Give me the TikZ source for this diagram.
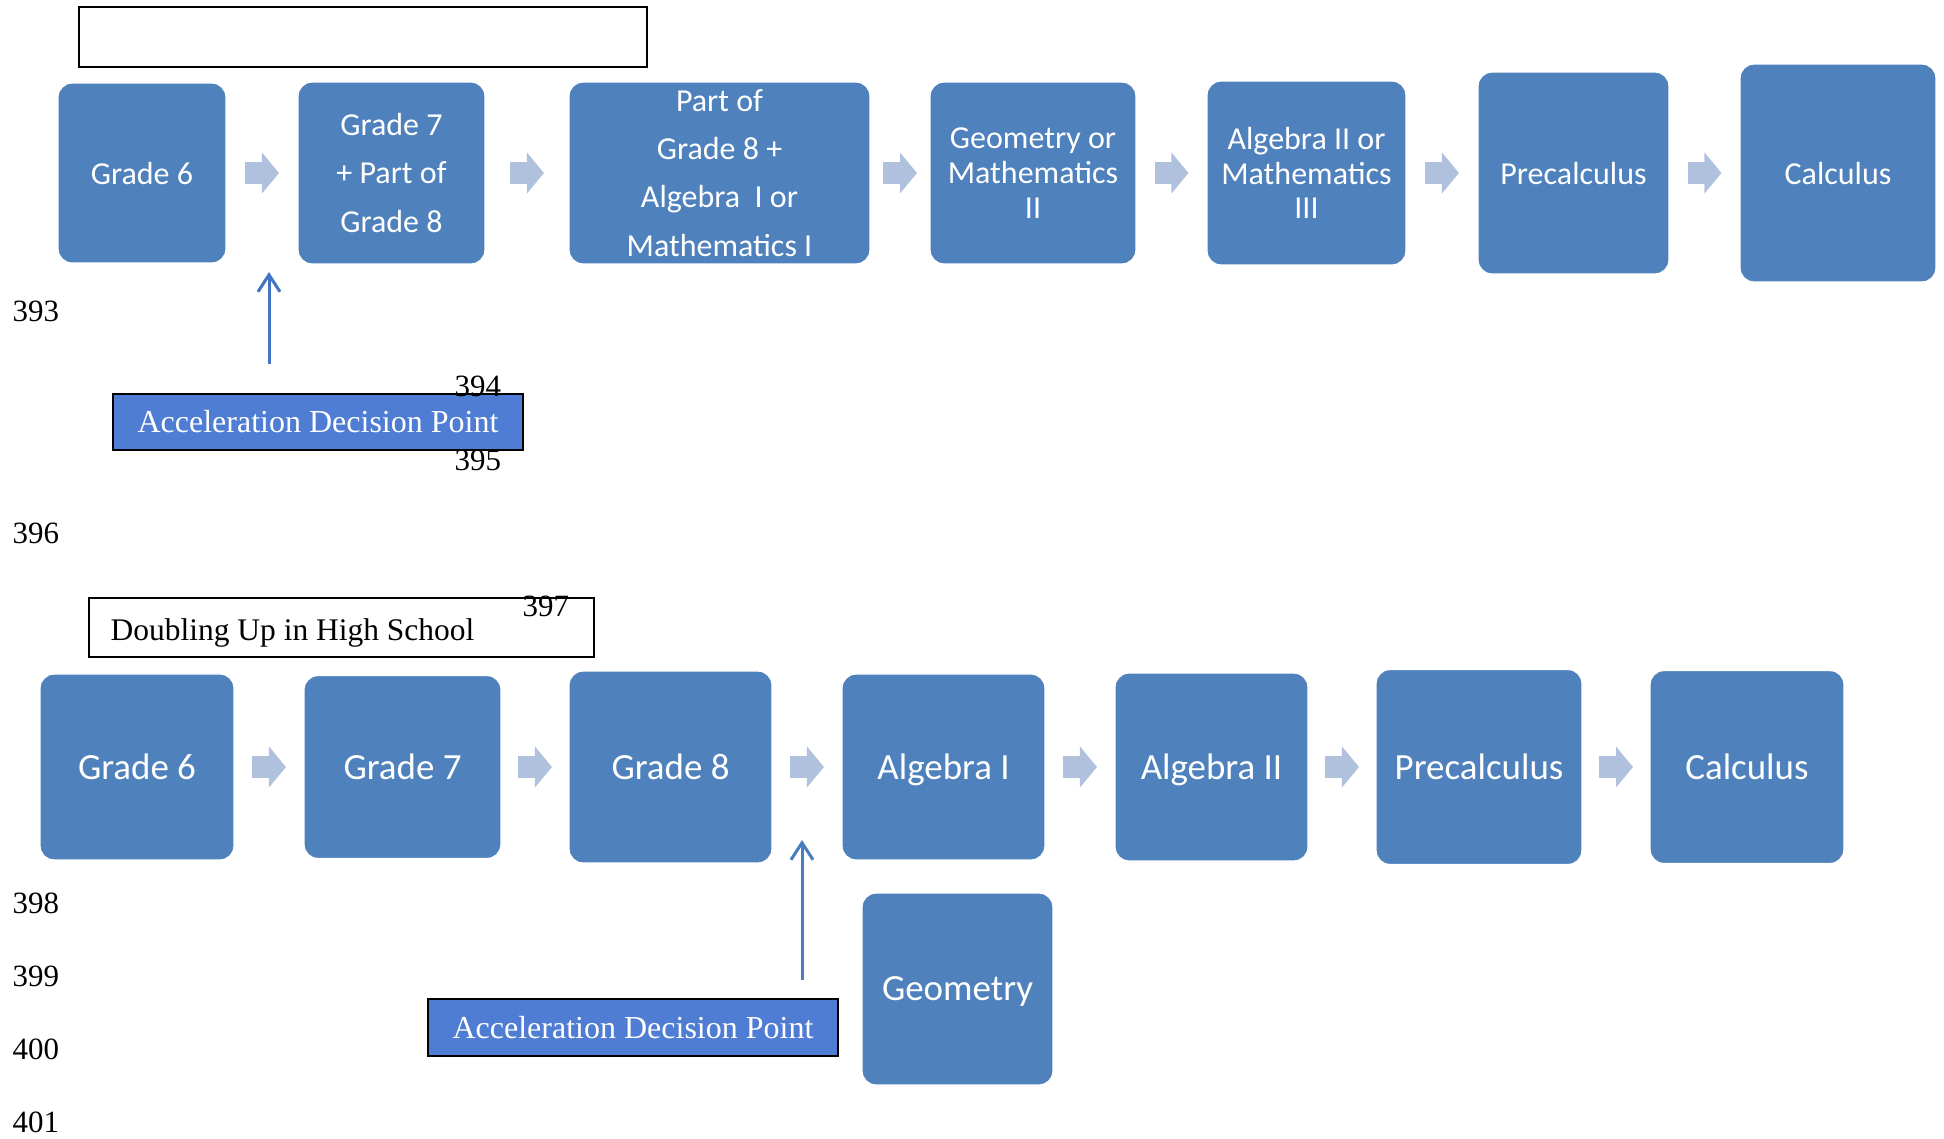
\documentclass[tikz,border=0pt]{standalone}
\usepackage{fontspec}
\setmainfont{Liberation Serif}
\newfontfamily\calib{Carlito}
\usetikzlibrary{arrows.meta,calc}
\definecolor{boxblue}{RGB}{79,129,189}
\definecolor{arrowgrey}{RGB}{176,193,222}
\definecolor{adpblue}{RGB}{79,125,212}
\definecolor{upblue}{RGB}{68,114,196}
\definecolor{upblue2}{RGB}{74,124,192}
\tikzset{
  stepbox/.style={rounded corners=0.14cm, fill=boxblue, draw=white, line width=0.4pt, text=white, inner sep=0pt},
  multi/.style={align=center},
  single/.style={text depth=0pt},
  topfont/.style={font=\calib\fontsize{9.1}{9.9}\selectfont},
  widefont/.style={font=\calib\fontsize{9.1}{13.7}\selectfont},
  botfont/.style={font=\calib\fontsize{10.5}{12.6}\selectfont},
  chev/.style={draw=arrowgrey, line width=0.22cm, -{Triangle[length=0.17cm,width=0.40cm]}},
  uparrow/.style={line width=0.03cm, -{Straight Barb[length=0.17cm,width=0.22cm,line width=0.03cm]}},
  adpbox/.style={draw=black, line width=0.02cm, fill=adpblue, text=white, inner sep=0pt, font=\fontsize{9.1}{11}\selectfont},
  titlebox/.style={draw=black, line width=0.02cm, fill=white, inner sep=0pt},
  linenum/.style={anchor=west, inner sep=0pt, font=\fontsize{8.8}{10}\selectfont}
}
\begin{document}
\begin{tikzpicture}[x=0.01cm,y=-0.01cm]
\useasboundingbox (0,0) rectangle (1944,1139);

% ---------- top section ----------
\node[titlebox, minimum width=5.68cm, minimum height=0.60cm] (title1) at (363,37) {};

\node[stepbox, single, topfont, minimum width=1.68cm, minimum height=1.80cm] (t1) at (142,173) {Grade 6};
\node[stepbox, multi, widefont, minimum width=1.87cm, minimum height=1.82cm] (t2) at (391.5,173) {Grade 7\\+ Part of\\Grade 8};
\node[stepbox, multi, widefont, minimum width=3.01cm, minimum height=1.82cm] (t3) at (719.5,173) {Part of\\Grade 8 +\\Algebra\ \ I or\\Mathematics I};
\node[stepbox, multi, topfont, minimum width=2.06cm, minimum height=1.82cm] (t4) at (1033,173) {Geometry or\\Mathematics\\II};
\node[stepbox, multi, topfont, minimum width=1.99cm, minimum height=1.84cm] (t5) at (1306.5,173) {Algebra II or\\Mathematics\\III};
\node[stepbox, single, topfont, minimum width=1.91cm, minimum height=2.02cm] (t6) at (1573.5,173) {Precalculus};
\node[stepbox, single, topfont, minimum width=1.96cm, minimum height=2.18cm] (t7) at (1838,173) {Calculus};

\foreach \a/\b in {t1/t2,t2/t3,t3/t4,t4/t5,t5/t6,t6/t7}{
  \draw[chev] ($(\a.east)!0.5!(\b.west)+(-17,0)$) -- ($(\a.east)!0.5!(\b.west)+(17,0)$);
}

\node[adpbox, minimum width=4.10cm, minimum height=0.56cm] (adp1) at (318,422) {Acceleration Decision Point};
\coordinate (u1s) at (269,364);
\coordinate (u1e) at (269,272);
\draw[uparrow, draw=upblue] (u1s) -- (u1e);

% ---------- bottom section ----------
\node[titlebox, minimum width=5.05cm, minimum height=0.59cm] (title2) at (341.5,627.5) {};
\node[anchor=base west, inner sep=0pt, font=\fontsize{8.95}{11}\selectfont] (title2txt) at (110,640) {Doubling Up in High School};

\node[stepbox, single, botfont, minimum width=1.94cm, minimum height=1.86cm] (b1) at (137,767) {Grade 6};
\node[stepbox, single, botfont, minimum width=1.97cm, minimum height=1.83cm] (b2) at (402.5,767) {Grade 7};
\node[stepbox, single, botfont, minimum width=2.03cm, minimum height=1.92cm] (b3) at (670.5,767) {Grade 8};
\node[stepbox, single, botfont, minimum width=2.03cm, minimum height=1.86cm] (b4) at (943.5,767) {Algebra I};
\node[stepbox, single, botfont, minimum width=1.93cm, minimum height=1.88cm] (b5) at (1211.5,767) {Algebra II};
\node[stepbox, single, botfont, minimum width=2.06cm, minimum height=1.95cm] (b6) at (1479,767) {Precalculus};
\node[stepbox, single, botfont, minimum width=1.94cm, minimum height=1.93cm] (b7) at (1747,767) {Calculus};
\node[stepbox, single, botfont, minimum width=1.91cm, minimum height=1.92cm] (geo) at (957.5,989) {Geometry};

\foreach \a/\b in {b1/b2,b2/b3,b3/b4,b4/b5,b5/b6,b6/b7}{
  \draw[chev] ($(\a.east)!0.5!(\b.west)+(-17,0)$) -- ($(\a.east)!0.5!(\b.west)+(17,0)$);
}

\node[adpbox, minimum width=4.10cm, minimum height=0.57cm] (adp2) at (633,1027.5) {Acceleration Decision Point};
\coordinate (u2s) at (802,980);
\coordinate (u2e) at (802,840);
\draw[uparrow, draw=upblue2] (u2s) -- (u2e);

% ---------- line numbers ----------
\node[linenum] (n393) at (12,311) {393};
\node[linenum] (n394) at (454,386) {394};
\node[linenum] (n395) at (454,460) {395};
\node[linenum] (n396) at (12,533) {396};
\node[linenum] (n397) at (522,606) {397};
\node[linenum] (n398) at (12,903) {398};
\node[linenum] (n399) at (12,976) {399};
\node[linenum] (n400) at (12,1049) {400};
\node[linenum] (n401) at (12,1122) {401};
\end{tikzpicture}
\end{document}
